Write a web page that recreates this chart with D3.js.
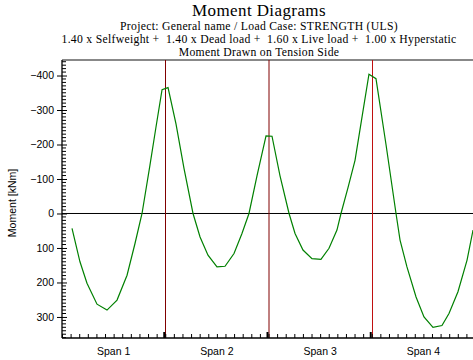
<!DOCTYPE html>
<html><head><meta charset="utf-8">
<script src="https://cdn.jsdelivr.net/npm/d3@7/dist/d3.min.js"></script>
<style>body{margin:0;background:#fff;}svg{display:block;} .pre{white-space:pre;}</style>
</head><body>
<svg id="c" width="473" height="360"></svg>
<script>
const mainTitle = "Moment Diagrams";
const titleLines = ["Project: General name / Load Case: STRENGTH (ULS)",
  "1.40 x Selfweight +  1.40 x Dead load +  1.60 x Live load +  1.00 x Hyperstatic",
  "Moment Drawn on Tension Side"];
const spanLabels = ["Span 1","Span 2","Span 3","Span 4"];
const supports = [1, 2, 3];
const supportColors = ["#800000", "#800000", "#c01010"];
const yTicks = [-400,-300,-200,-100,0,100,200,300];
// station positions (in span units) and moments (kNm)
const stations = [0.097,0.174,0.242,0.339,0.436,0.533,0.630,0.707,0.775,0.852,0.910,0.969,
  1.027,1.104,1.182,1.269,1.337,1.414,1.501,1.579,1.666,1.743,1.811,1.889,1.976,
  2.034,2.111,2.199,2.257,2.334,2.421,2.508,2.586,2.663,2.702,2.770,2.838,2.906,2.973,
  3.041,3.138,3.235,3.274,3.341,3.429,3.506,3.593,3.680,3.748,3.835,3.923,3.981];
const moments = [43,140,202,263,280,251,179,87,0,-140,-250,-359,
  -365,-260,-130,0,68,121,155,153,116,58,0,-110,-225,
  -224,-110,0,58,106,131,133,101,48,0,-75,-154,-280,-404,
  -391,-200,0,77,155,242,300,330,325,290,227,135,48];

const svg = d3.select("#c");
const L = 62, R = 475, T = 60, B = 338;
const x = d3.scaleLinear().domain([0, 4]).range([L, R]);
const y = d3.scaleLinear().domain([-445, 361]).range([T, B]);
const serif = "Liberation Serif, Times New Roman, serif";
const sans = "Liberation Sans, Arial, sans-serif";

// titles
svg.append("text").attr("x", 259).attr("y", 15.5).attr("text-anchor","middle")
  .attr("font-family",serif).attr("font-size",17).attr("letter-spacing",0.4).text(mainTitle);
titleLines.forEach((t,i)=>{
  svg.append("text").attr("class","pre").attr("x", 259).attr("y", 30 + i*13).attr("text-anchor","middle")
    .attr("font-family",serif).attr("font-size",11.7).attr("letter-spacing",0.3).text(t);
});

// top border
svg.append("line").attr("x1",L).attr("x2",R).attr("y1",T).attr("y2",T)
  .attr("stroke","#888").attr("stroke-width",2);

// zero line
svg.append("line").attr("x1",L).attr("x2",R).attr("y1",y(0)).attr("y2",y(0))
  .attr("stroke","#000").attr("stroke-width",1);

// support lines
supports.forEach((s,i)=>{
  const px = i===1 ? Math.round(x(s)) : Math.round(x(s)) + 0.5;
  svg.append("line").attr("x1",px).attr("x2",px).attr("y1",T).attr("y2",B)
    .attr("stroke",supportColors[i]).attr("stroke-width", 1);
});

// y axis
const yAxis = d3.axisLeft(y).tickValues(yTicks).tickSize(5).tickPadding(3).tickFormat(d3.format("d"));
const gy = svg.append("g").attr("transform",`translate(${L},0)`).call(yAxis);
gy.select(".domain").remove();
gy.selectAll(".tick line").attr("x2",-5).attr("x1",5).attr("stroke","#000");
gy.selectAll("text").attr("font-family",sans).attr("font-size",10.5).attr("fill","#000");
const minorY = d3.range(-440, 361, 10).filter(v=>v%100!==0);
svg.append("g").selectAll("line").data(minorY).join("line")
  .attr("x1",L).attr("x2",L+4).attr("y1",d=>y(d)).attr("y2",d=>y(d)).attr("stroke","#000");
svg.append("line").attr("x1",L).attr("x2",L).attr("y1",T).attr("y2",B).attr("stroke","#000").attr("stroke-width",1.3);

// x axis
const minorX = d3.range(0, 4.0001, 1/12);
const xAxis = d3.axisBottom(x).tickValues(minorX).tickSize(-4).tickFormat("");
const gx = svg.append("g").attr("transform",`translate(0,${B})`).call(xAxis);
gx.select(".domain").remove();
gx.selectAll(".tick line").attr("stroke","#000");
svg.append("g").selectAll("line").data(supports).join("line")
  .attr("x1",d=>x(d)-1).attr("x2",d=>x(d)-1).attr("y1",B).attr("y2",B-6).attr("stroke","#000").attr("stroke-width",2);
svg.append("line").attr("x1",L).attr("x2",R).attr("y1",B).attr("y2",B).attr("stroke","#000").attr("stroke-width",1.3);
svg.append("g").selectAll("text").data(spanLabels).join("text")
  .attr("x",(d,i)=>x(i+0.5)).attr("y",355).attr("text-anchor","middle")
  .attr("font-family",sans).attr("font-size",10.5).text(d=>d);

// y title
svg.append("text").attr("transform",`translate(16,203) rotate(-90)`).attr("text-anchor","middle")
  .attr("font-family",sans).attr("font-size",10.5).text("Moment [kNm]");

// moment line
const pts = stations.map((s,i)=>[s, moments[i]]);
svg.append("path").datum(pts)
  .attr("d", d3.line().x(d=>x(d[0])).y(d=>y(d[1])))
  .attr("fill","none").attr("stroke","#008000").attr("stroke-width",1.2);
</script>
</body></html>
